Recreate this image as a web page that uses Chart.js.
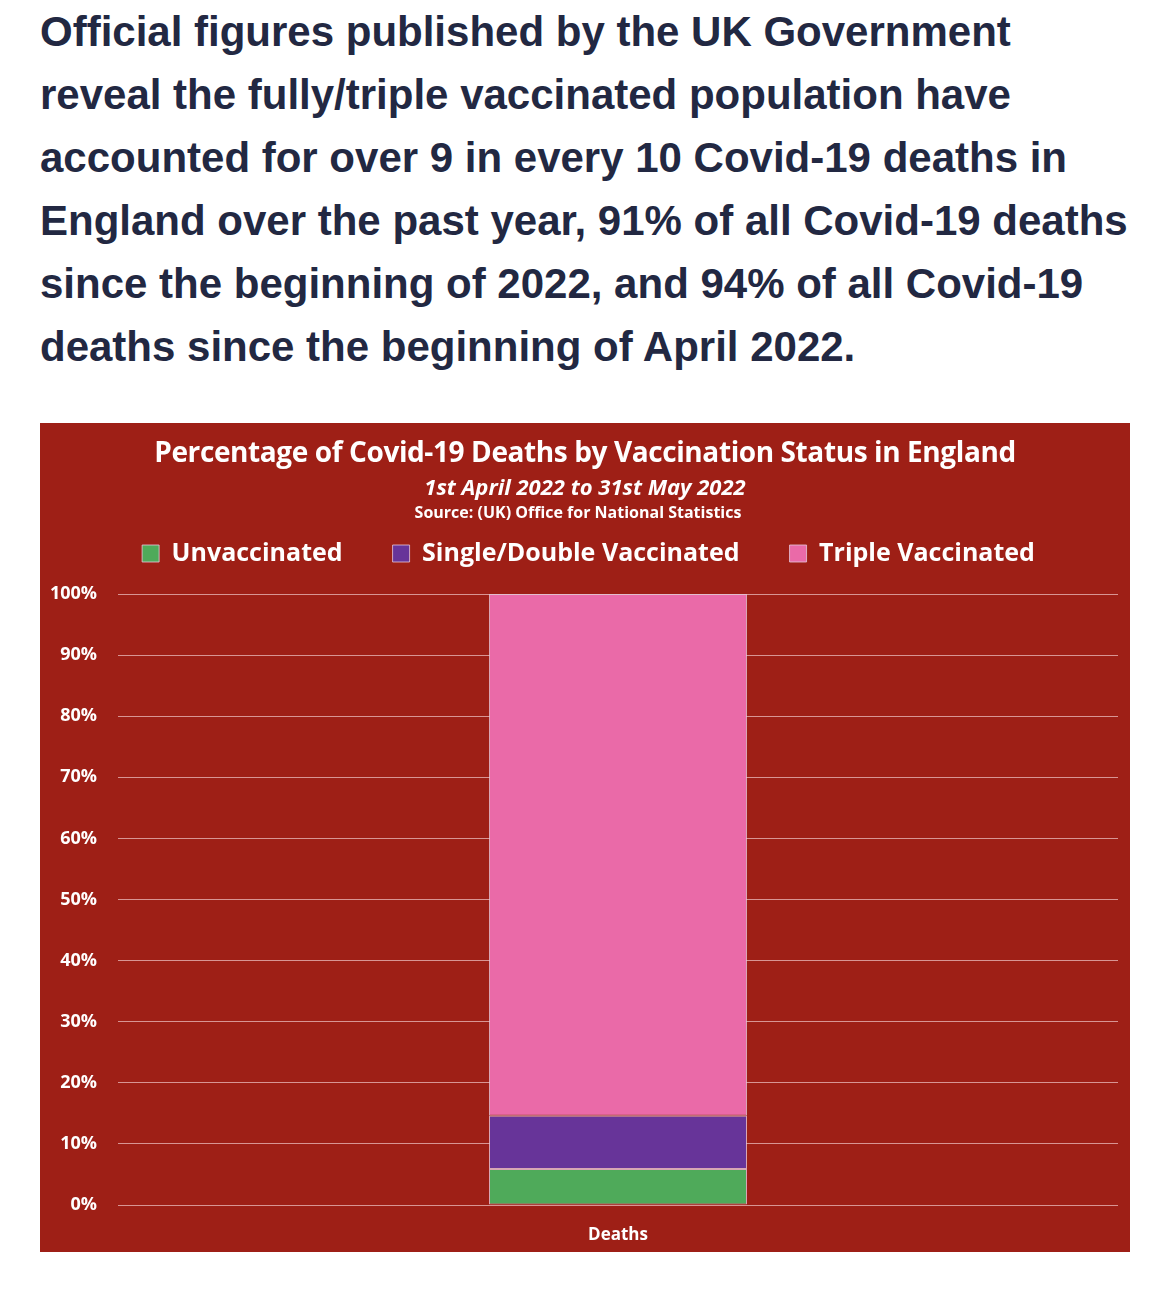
<!DOCTYPE html>
<html lang="en">
<head>
  <meta charset="UTF-8">
  <title>Covid-19 Deaths by Vaccination Status</title>
  <script src="https://cdn.jsdelivr.net/npm/chart.js"></script>
  <style>
    body {
      margin: 0;
      background: #fff;
      width: 1170px;
      height: 1305px;
      position: relative;
      overflow: hidden;
    }
    h2 {
      position: absolute;
      left: 40px;
      top: 0;
      width: 1120px;
      margin: 0;
      padding-top: 0;
      font-family: 'Liberation Sans', Arial, sans-serif;
      font-weight: bold;
      font-size: 42px;
      line-height: 63px;
      color: #222842;
      white-space: nowrap;
    }
    #box {
      position: absolute;
      left: 40px;
      top: 423px;
      width: 1090px;
      height: 829px;
      background: #9e1f16;
    }
    .hdr {
      position: absolute;
      left: 0;
      width: 100%;
      text-align: center;
      color: #fff;
      font-family: 'Open Sans', sans-serif;
      font-weight: bold;
    }
  </style>
</head>
<body>

  <h2>Official figures published by the UK Government<br>reveal the fully/triple vaccinated population have<br>accounted for over 9 in every 10 Covid-19 deaths in<br>England over the past year, 91% of all Covid-19 deaths<br>since the beginning of 2022, and 94% of all Covid-19<br>deaths since the beginning of April 2022.</h2>

  <div id="box">
    <div class="hdr" style="top:9px;font-size:28px;letter-spacing:-0.4px;">Percentage of Covid-19 Deaths by Vaccination Status in England</div>
    <div class="hdr" style="top:48px;font-size:22px;font-style:italic;">1st April 2022 to 31st May 2022</div>
    <div class="hdr" style="top:78px;left:-7px;font-size:16px;">Source: (UK) Office for National Statistics</div>
    <canvas id="chart" width="1090" height="829"></canvas>
  </div>

  <script>
    const categories = ['Deaths'];
    const unvaccinated = [5.9];
    const singleDouble = [8.7];
    const triple = [85.4];
    const yTicks = [0, 10, 20, 30, 40, 50, 60, 70, 80, 90, 100];

    // push the plot area a little further below the legend,
    // and nudge the legend row to the right like the original
    const legendTweak = {
      id: 'legendTweak',
      beforeInit(chart) {
        const fit = chart.legend.fit;
        chart.legend.fit = function () {
          fit.bind(chart.legend)();
          this.height += 18;
        };
      },
      afterLayout(chart) {
        chart.legend.left += 6;
        chart.legend.right += 6;
      }
    };

    const ctx = document.getElementById('chart').getContext('2d');
    const chart = new Chart(ctx, {
      type: 'bar',
      data: {
        labels: categories,
        datasets: [
          { label: 'Unvaccinated', data: unvaccinated, backgroundColor: '#4faa5a' },
          { label: 'Single/Double Vaccinated', data: singleDouble, backgroundColor: '#673499' },
          { label: 'Triple Vaccinated', data: triple, backgroundColor: '#ea6aa8' }
        ].map(d => Object.assign(d, {
          borderColor: 'rgba(230,200,220,0.8)',
          borderWidth: 1,
          borderSkipped: false,
          barPercentage: 0.258,
          categoryPercentage: 1
        }))
      },
      options: {
        responsive: false,
        animation: false,
        devicePixelRatio: 1,
        layout: { padding: { top: 68, left: 7, right: 12, bottom: 0 } },
        scales: {
          x: {
            stacked: true,
            grid: { display: false },
            border: { display: false },
            afterFit: scale => { scale.height = 47; },
            ticks: { color: '#fff', font: { family: 'Open Sans', size: 17, weight: 'bold' }, padding: 12 }
          },
          y: {
            stacked: true,
            min: 0,
            max: 100,
            afterBuildTicks: axis => { axis.ticks = yTicks.map(v => ({ value: v })); },
            afterFit: scale => { scale.width = 71; },
            grid: { color: 'rgba(235,190,190,0.75)', lineWidth: 1, drawTicks: false },
            border: { display: false },
            ticks: {
              color: '#fff',
              padding: 21,
              font: { family: 'Open Sans', size: 18, weight: 'bold' },
              callback: v => v + '%'
            }
          }
        },
        plugins: {
          legend: {
            position: 'top',
            labels: {
              color: '#fff',
              font: { family: 'Open Sans', size: 25, weight: 'bold' },
              boxWidth: 17,
              boxHeight: 17,
              padding: 50,
              useBorderRadius: false
            }
          },
          tooltip: { enabled: false }
        }
      },
      plugins: [legendTweak]
    });
  </script>

</body>
</html>
